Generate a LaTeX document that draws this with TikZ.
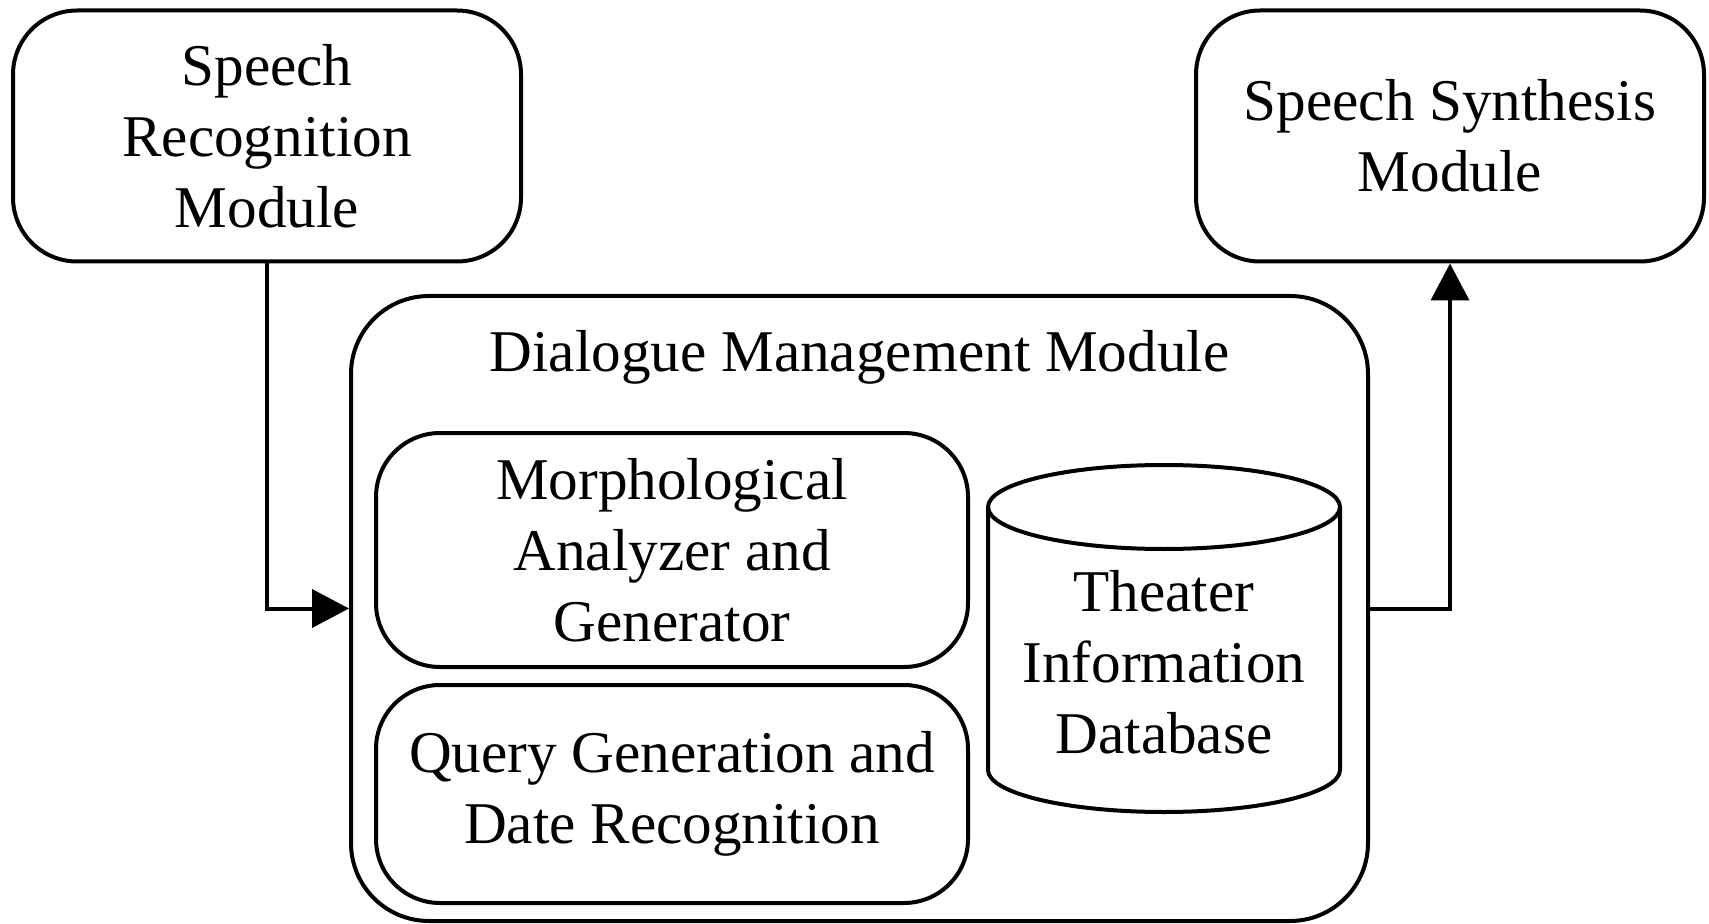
\documentclass[tikz,border=0pt]{standalone}
\usepackage{fontspec}
\setmainfont{Liberation Serif}
\usetikzlibrary{arrows.meta,positioning}
\begin{document}
\begin{tikzpicture}[x=0.5pt,y=0.5pt,line width=2pt,
    mod/.style={draw,rounded corners=32pt,align=center,inner sep=0pt,
      font=\fontsize{29.6}{35.4}\selectfont},
    txt/.style={align=center,inner sep=0pt,font=\fontsize{29.6}{35.4}\selectfont},
    flow/.style={-{Triangle[length=18.5pt,width=19pt]}}]

    \useasboundingbox (0,0) rectangle (1709,923);

    % the outer modules
    \node[mod,minimum width=254pt,minimum height=125.5pt] (sr) at (267,787)
    {Speech\\Recognition\\Module};
    \node[mod,minimum width=254pt,minimum height=125.5pt] (ss) at (1450,787)
    {Speech Synthesis\\Module};
    \node[mod,rounded corners=39pt,minimum width=508.5pt,minimum
    height=312.5pt] (dm) at (859.5,314.5) {};
    \node[txt,anchor=base] (dmt) at ([yshift=-38.5pt]dm.north)
    {Dialogue Management Module};

    % the inner modules
    \node[mod,minimum width=296pt,minimum height=117pt] (ma) at (672,373)
    {Morphological\\Analyzer and\\Generator};
    \node[mod,minimum width=296pt,minimum height=109pt] (qg) at (672,129)
    {Query Generation and\\Date Recognition};

    % the database
    \draw (988,416) -- (988,153) arc[start angle=180,end angle=360,x
    radius=88pt,y radius=21pt] -- (1340,416);
    \draw (1164,416) ellipse [x radius=88pt,y radius=21pt];
    \node[txt] (tdb) at (1164,261) {Theater\\Information\\Database};

    % the flow
    \draw[flow] (sr.south) |- (dm.west);
    \draw[flow] (dm.east) -| (ss.south);
  \end{tikzpicture}
\end{document}
